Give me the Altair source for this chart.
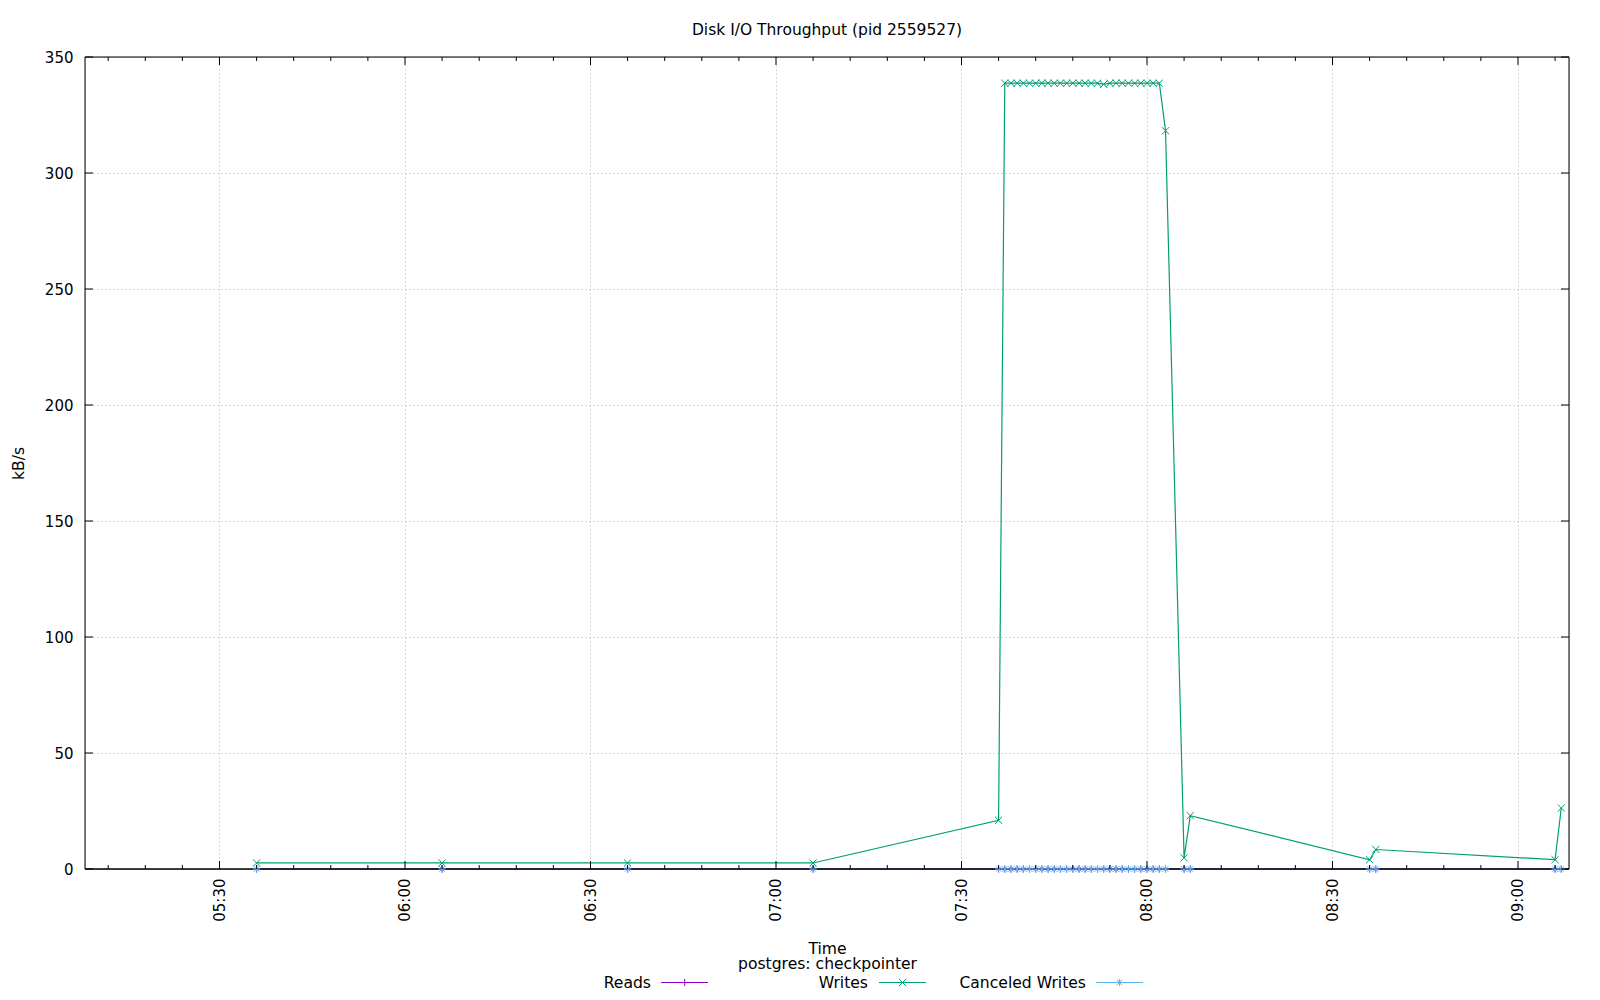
import altair as alt
import pandas as pd

# ---------------- data ----------------
times = [
    "05:36", "06:06", "06:36", "07:06", "07:36",
    "07:37", "07:38", "07:39", "07:40", "07:41", "07:42", "07:43", "07:44",
    "07:45", "07:46", "07:47", "07:48", "07:49", "07:50", "07:51", "07:52",
    "07:53", "07:54", "07:55", "07:56", "07:57", "07:58", "07:59", "08:00",
    "08:01", "08:02",
    "08:03", "08:06", "08:07", "08:36", "08:37", "09:06", "09:07",
]
writes = [
    2.6, 2.6, 2.6, 2.6, 21.0,
    338.7, 338.7, 338.7, 338.7, 338.7, 338.7, 338.7, 338.7,
    338.7, 338.7, 338.7, 338.7, 338.7, 338.7, 338.7, 338.7,
    338.2, 338.7, 338.7, 338.7, 338.7, 338.7, 338.7, 338.7,
    338.7, 338.7,
    318.2, 4.8, 23.0, 4.0, 8.4, 4.0, 26.3,
]
reads = [
    0, 0, 0, 0, 0,
    0, 0, 0, 0, 0, 0, 0, 0,
    0, 0, 0, 0, 0, 0, 0, 0,
    0, 0, 0, 0, 0, 0, 0, 0,
    0, 0,
    0, 0, 0, 0, 0, 0, 0,
]
canceled = [
    0, 0, 0, 0, 0,
    0, 0, 0, 0, 0, 0, 0, 0,
    0, 0, 0, 0, 0, 0, 0, 0,
    0, 0, 0, 0, 0, 0, 0, 0,
    0, 0,
    0, 0, 0, 0, 0, 0, 0,
]
series_names = ["Reads", "Writes", "Canceled Writes"]
y_ticks = [0, 50, 100, 150, 200, 250, 300, 350]
x_major = ["05:30", "06:00", "06:30", "07:00", "07:30", "08:00", "08:30", "09:00"]
x_minor = [
    "05:12", "05:18", "05:24", "05:36", "05:42", "05:48", "05:54",
    "06:06", "06:12", "06:18", "06:24", "06:36", "06:42", "06:48", "06:54",
    "07:06", "07:12", "07:18", "07:24", "07:36", "07:42", "07:48", "07:54",
    "08:06", "08:12", "08:18", "08:24", "08:36", "08:42", "08:48", "08:54",
    "09:06",
]
DAY = "2024-01-01T"

def ts(hm):
    return DAY + hm + ":00"

def frame(vals):
    return pd.DataFrame({"time": [ts(t) for t in times], "value": vals})

# ---------------- style ----------------
W, H = 1484, 812
FONT = "DejaVu Sans"
C_READ, C_WRITE, C_CANC = "#9400d3", "#009e73", "#56b4e9"
P_PLUS = "M-1,0L1,0M0,-1L0,1"
P_X = "M-1,-1L1,1M-1,1L1,-1"
P_STAR = "M-1,0L1,0M0,-1L0,1M-0.75,-0.75L0.75,0.75M-0.75,0.75L0.75,-0.75"
MSIZE = 52

x_scale = alt.Scale(domain=[
    alt.DateTime(year=2024, month=1, date=1, hours=5, minutes=8, seconds=15),
    alt.DateTime(year=2024, month=1, date=1, hours=9, minutes=8, seconds=15),
])
x_axis = alt.Axis(
    values=[alt.DateTime(year=2024, month=1, date=1, hours=int(v[:2]), minutes=int(v[3:]))
            for v in x_major],
    format="%H:%M", labelAngle=270, labelAlign="right", labelBaseline="middle",
    labelPadding=9, ticks=False, tickSize=0, domain=False,
    grid=True, gridDash=[1, 3], gridColor="#b4b4b4", gridWidth=1,
    labelFont=FONT, labelFontSize=15, labelColor="black",
    title=["Time", "postgres: checkpointer"], titleFont=FONT, titleFontSize=15.6,
    titleFontWeight="normal", titleColor="black", titleY=79, titleBaseline="middle",
    titleLineHeight=15, labelFlush=False, labelOverlap=False,
)
y_axis = alt.Axis(
    values=y_ticks, ticks=False, tickSize=0, domain=False, labelPadding=12,
    grid=True, gridDash=[1, 3], gridColor="#b4b4b4", gridWidth=1,
    labelFont=FONT, labelFontSize=15, labelColor="black",
    title="kB/s", titleFont=FONT, titleFontSize=15.6, titleFontWeight="normal",
    titleColor="black", titleX=-67, titleY=H / 2, titleAngle=270,
    titleAlign="center", titleBaseline="middle", labelFlush=False,
)
x_enc = alt.X("time:T", scale=x_scale, axis=x_axis)
y_enc = alt.Y("value:Q", scale=alt.Scale(domain=[0, 350], nice=False, zero=True), axis=y_axis)

line_layers, point_layers = [], []
for vals, col, path in [(reads, C_READ, P_PLUS), (writes, C_WRITE, P_X), (canceled, C_CANC, P_STAR)]:
    d = frame(vals)
    line_layers.append(alt.Chart(d).mark_line(color=col, strokeWidth=1.2).encode(x=x_enc, y=y_enc))
    point_layers.append(alt.Chart(d).mark_point(shape=path, filled=False, color=col, size=MSIZE,
                                                strokeWidth=1, opacity=1).encode(x=x_enc, y=y_enc))

# border drawn in front of the lines (gnuplot "border front")
border = alt.Chart(pd.DataFrame({"name": ["border"]}))
border_layers = [
    border.mark_rule(color="black", strokeWidth=1.6).encode(x=alt.value(0), x2=alt.value(W), y=alt.value(H)),
    border.mark_rule(color="black", strokeWidth=1).encode(x=alt.value(0), x2=alt.value(W), y=alt.value(0)),
    border.mark_rule(color="black", strokeWidth=1).encode(x=alt.value(0), y=alt.value(0), y2=alt.value(H)),
    border.mark_rule(color="black", strokeWidth=1).encode(x=alt.value(W), y=alt.value(0), y2=alt.value(H)),
]

# inward ticks (gnuplot style)
maj = pd.DataFrame({"time": [ts(t) for t in x_major]})
mnr = pd.DataFrame({"time": [ts(t) for t in x_minor]})
yt = pd.DataFrame({"value": y_ticks})
tick = dict(color="black", strokeWidth=1)
tick_layers = [
    alt.Chart(maj).mark_rule(**tick).encode(x=x_enc, y=alt.value(H - 8), y2=alt.value(H)),
    alt.Chart(maj).mark_rule(**tick).encode(x=x_enc, y=alt.value(0), y2=alt.value(8)),
    alt.Chart(mnr).mark_rule(**tick).encode(x=x_enc, y=alt.value(H - 4), y2=alt.value(H)),
    alt.Chart(mnr).mark_rule(**tick).encode(x=x_enc, y=alt.value(0), y2=alt.value(4)),
    alt.Chart(yt).mark_rule(**tick).encode(y=y_enc, x=alt.value(0), x2=alt.value(8)),
    alt.Chart(yt).mark_rule(**tick).encode(y=y_enc, x=alt.value(W - 8), x2=alt.value(W)),
]

# legend (label left of sample, gnuplot style)
legend_layers = []
LY = H + 113.5
for name, col, path, tx, l1, l2, mx in [
    (series_names[0], C_READ, P_PLUS, 566, 576, 623, 599.7),
    (series_names[1], C_WRITE, P_X, 783, 794, 841, 817.5),
    (series_names[2], C_CANC, P_STAR, 1001, 1011, 1058, 1034.4),
]:
    ld = pd.DataFrame({"name": [name]})
    legend_layers.append(alt.Chart(ld).mark_text(align="right", baseline="middle", font=FONT,
                                                 fontSize=15.6, color="black")
                         .encode(text="name:N", x=alt.value(tx), y=alt.value(LY)))
    legend_layers.append(alt.Chart(ld).mark_rule(color=col, strokeWidth=1.2)
                         .encode(x=alt.value(l1), x2=alt.value(l2), y=alt.value(LY)))
    legend_layers.append(alt.Chart(ld).mark_point(shape=path, filled=False, color=col, size=MSIZE,
                                                  strokeWidth=1, opacity=1)
                         .encode(x=alt.value(mx), y=alt.value(LY)))

chart = alt.layer(*(line_layers + border_layers + point_layers + tick_layers + legend_layers)).properties(
    width=W, height=H,
    title=alt.TitleParams("Disk I/O Throughput (pid 2559527)", font=FONT, fontSize=15.5,
                          fontWeight="normal", color="black", anchor="middle",
                          baseline="alphabetic", offset=0),
    autosize=alt.AutoSizeParams(type="none"),
    padding={"left": 77, "top": 49, "right": 15, "bottom": 122},
).configure_view(stroke="black", strokeWidth=1).configure(background="white")

chart.save("out.html", embed_options={"renderer": "svg", "actions": False})
